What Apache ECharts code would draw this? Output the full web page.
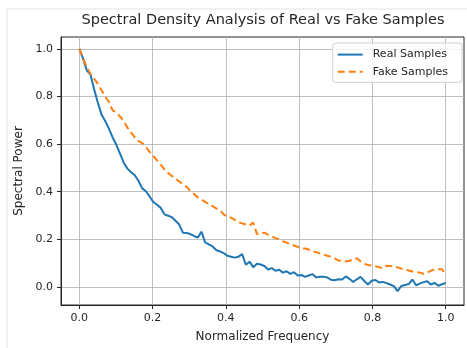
<!DOCTYPE html>
<html>
<head>
<meta charset="utf-8">
<script src="https://cdn.jsdelivr.net/npm/echarts@6/dist/echarts.min.js"></script>
<style>
  html, body { margin: 0; padding: 0; background: #fff; }
  #chart { width: 467px; height: 348px; }
</style>
</head>
<body>
<div id="chart"></div>
<script>
// values, one per sample (100 evenly spaced frequencies)
const realSamples = [
  1.0, 0.96, 0.91, 0.893, 0.83, 0.775, 0.724, 0.697, 0.665, 0.628,
  0.597, 0.56, 0.522, 0.497, 0.482, 0.469, 0.445, 0.414, 0.402, 0.38,
  0.357, 0.345, 0.332, 0.305, 0.299, 0.293, 0.278, 0.262, 0.228, 0.227,
  0.222, 0.214, 0.207, 0.232, 0.187, 0.179, 0.17, 0.155, 0.149, 0.142,
  0.131, 0.127, 0.123, 0.127, 0.138, 0.093, 0.106, 0.083, 0.097, 0.094,
  0.088, 0.073, 0.079, 0.068, 0.072, 0.06, 0.066, 0.055, 0.062, 0.048,
  0.05, 0.042, 0.048, 0.054, 0.04, 0.043, 0.043, 0.04, 0.03, 0.028,
  0.032, 0.031, 0.044, 0.034, 0.021, 0.032, 0.042, 0.025, 0.01, 0.026,
  0.029, 0.019, 0.021, 0.016, 0.01, 0.003, -0.018, 0.004, 0.008, 0.012,
  0.031, 0.007, 0.014, 0.02, 0.024, 0.01, 0.017, 0.005, 0.011, 0.017
];
const fakeSamples = [
  1.0, 0.96, 0.925, 0.895, 0.875, 0.853, 0.826, 0.8, 0.777, 0.742,
  0.733, 0.716, 0.697, 0.669, 0.648, 0.628, 0.613, 0.604, 0.588, 0.567,
  0.55, 0.532, 0.514, 0.494, 0.478, 0.466, 0.454, 0.443, 0.431, 0.42,
  0.402, 0.39, 0.377, 0.367, 0.357, 0.348, 0.339, 0.33, 0.322, 0.305,
  0.295, 0.291, 0.282, 0.271, 0.267, 0.262, 0.258, 0.27, 0.222, 0.226,
  0.228, 0.22, 0.212, 0.205, 0.2, 0.192, 0.186, 0.18, 0.174, 0.168,
  0.162, 0.161, 0.157, 0.15, 0.146, 0.141, 0.136, 0.131, 0.127, 0.12,
  0.111, 0.109, 0.107, 0.11, 0.115, 0.12, 0.108, 0.097, 0.092, 0.09,
  0.087, 0.083, 0.078, 0.089, 0.088, 0.086, 0.082, 0.077, 0.074, 0.069,
  0.065, 0.063, 0.06, 0.055, 0.06, 0.068, 0.073, 0.074, 0.074, 0.05
];
const xTicks = [0, 0.2, 0.4, 0.6, 0.8, 1.0];
const yTicks = [0, 0.2, 0.4, 0.6, 0.8, 1.0];

const FONT = "DejaVu Sans";
const INK = "#262626";

// sample positions on the frequency axis
const freq = realSamples.map((_, i) => i / (realSamples.length - 1));
const pairs = (vals) => vals.map((v, i) => [freq[i], v]);

const chart = echarts.init(document.getElementById("chart"), null, { renderer: "canvas" });

const axisCommon = {
  type: "value",
  axisLine: { show: true, onZero: false, lineStyle: { color: INK, width: 1 } },
  axisTick: { show: true, length: 4, lineStyle: { color: INK, width: 1 } },
  axisLabel: { color: INK, fontFamily: FONT, fontSize: 11, margin: 8,
    formatter: (v) => v.toFixed(1) },
  splitLine: { show: true, lineStyle: { color: "#b0b0b0", width: 1, opacity: 0.8 } },
  nameLocation: "middle",
  nameTextStyle: { color: INK, fontFamily: FONT, fontSize: 12 },
};

chart.setOption({
  backgroundColor: "#fff",
  animation: false,
  title: {
    text: "Spectral Density Analysis of Real vs Fake Samples",
    left: 258, top: 8, textAlign: "center",
    textStyle: { color: INK, fontFamily: FONT, fontSize: 14.5, fontWeight: "normal" },
  },
  grid: { left: 61, right: 3, top: 37, bottom: 42, show: true,
    borderColor: INK, borderWidth: 1, backgroundColor: "transparent" },
  legend: {
    orient: "vertical", right: 5, top: 43,
    itemWidth: 25, itemHeight: 14, itemGap: 6,
    padding: [6, 14, 5, 4],
    backgroundColor: "rgba(255,255,255,0.8)",
    borderColor: "#d0d0d0", borderWidth: 1, borderRadius: 3,
    itemStyle: { opacity: 0 },
    textStyle: { color: INK, fontFamily: FONT, fontSize: 11, padding: [0, 0, 0, 5] },
  },
  xAxis: {
    ...axisCommon,
    min: -0.05, max: 1.05,
    name: "Normalized Frequency", nameGap: 26,
    axisTick: { ...axisCommon.axisTick, customValues: xTicks },
    axisLabel: { ...axisCommon.axisLabel, customValues: xTicks },
    splitLine: { ...axisCommon.splitLine, customValues: xTicks },
  },
  yAxis: {
    ...axisCommon,
    min: -0.076, max: 1.05,
    name: "Spectral Power", nameGap: 29,
    axisTick: { ...axisCommon.axisTick, customValues: yTicks },
    axisLabel: { ...axisCommon.axisLabel, customValues: yTicks },
    splitLine: { ...axisCommon.splitLine, customValues: yTicks },
  },
  graphic: [
    { type: "line", shape: { x1: 7, y1: 9, x2: 467, y2: 9 }, style: { stroke: "#e3e3e3", lineWidth: 1 } },
    { type: "line", shape: { x1: 7, y1: 9, x2: 7, y2: 348 }, style: { stroke: "#e3e3e3", lineWidth: 1 } },
  ],
  series: [
    {
      name: "Real Samples", type: "line", data: pairs(realSamples),
      symbol: "none", clip: false,
      lineStyle: { color: "#1f77b4", width: 2 },
      itemStyle: { color: "#1f77b4" },
    },
    {
      name: "Fake Samples", type: "line", data: pairs(fakeSamples),
      symbol: "none", clip: false,
      lineStyle: { color: "#ff7f0e", width: 2, type: [7, 4] },
      itemStyle: { color: "#ff7f0e" },
    },
  ],
});
</script>
</body>
</html>
